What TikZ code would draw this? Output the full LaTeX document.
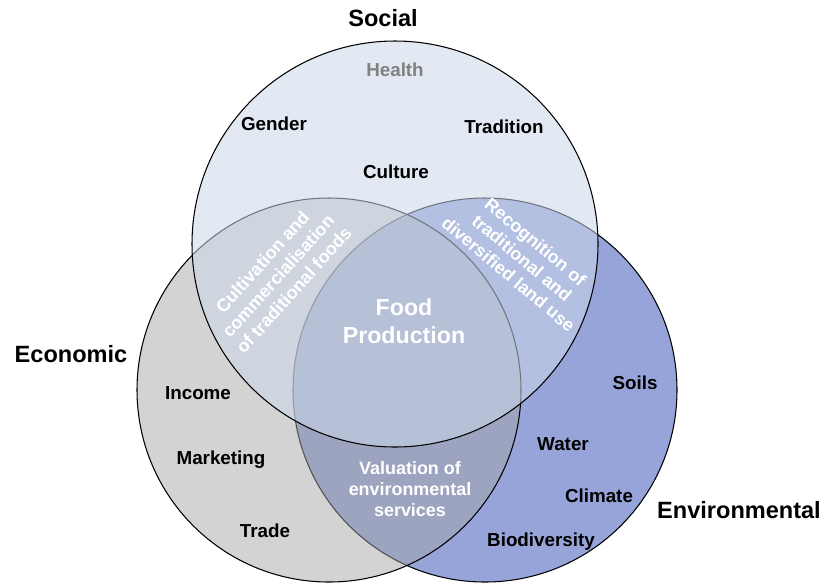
\documentclass[tikz,border=0pt]{standalone}
\usepackage{fontspec}
\setmainfont{Liberation Sans}
\usepackage{xcolor}

\definecolor{envblue}{RGB}{151,164,218}
\definecolor{econgrey}{RGB}{165,165,165}
\definecolor{socblue}{RGB}{204,215,233}

\tikzset{
  circletitle/.style={font=\fontsize{13.4}{16}\selectfont\bfseries},
  topic/.style={font=\fontsize{10.7}{13}\selectfont\bfseries},
  overlap/.style={font=\fontsize{10.2}{12}\selectfont\bfseries, text=white, align=center},
}

\begin{document}
\begin{tikzpicture}[x=0.02cm,y=-0.02cm,line width=0.6pt]
                \useasboundingbox (0,0) rectangle (838,586);
                % Draw circles
                \filldraw[fill=envblue] (485,390) circle[radius=192];
                \filldraw[fill=econgrey, fill opacity=0.49] (329,390) circle[radius=192];
                \filldraw[fill=socblue, fill opacity=0.55] (395,244) circle[radius=203];

                % Circle titles
                \node[circletitle] (social) at (383,18) {Social};
                \node[circletitle] (economic) at (71,354) {Economic};
                \node[circletitle] (environmental) at (739,510) {Environmental};

                % Social topics
                \node[topic, text=black!50] (health) at (395,70) {Health};
                \node[topic] (gender) at (274,124) {Gender};
                \node[topic] (tradition) at (504,127) {Tradition};
                \node[topic] (culture) at (396,172) {Culture};
                % Economic topics
                \node[topic] (income) at (198,393) {Income};
                \node[topic] (marketing) at (221,460) {Marketing};
                \node[topic] (trade) at (265,531) {Trade};
                % Environmental topics
                \node[topic] (soils) at (635,383) {Soils};
                \node[topic] (water) at (563,444) {Water};
                \node[topic] (climate) at (599,496) {Climate};
                \node[topic] (biodiversity) at (541,542) {Biodiversity};

                % Overlaps
                \node[overlap, rotate=48] (cultivation) at (278,276)
                    {Cultivation and\\commercialisation\\of traditional foods};
                \node[overlap, rotate=-40] (recognition) at (522,258)
                    {Recognition of\\traditional and\\diversified land use};
                \node[overlap] (valuation) at (410,489)
                    {Valuation of\\environmental\\services};
                \node[overlap, font=\fontsize{13.2}{16}\selectfont\bfseries] (food) at (404,321)
                    {Food\\Production};
\end{tikzpicture}
\end{document}
